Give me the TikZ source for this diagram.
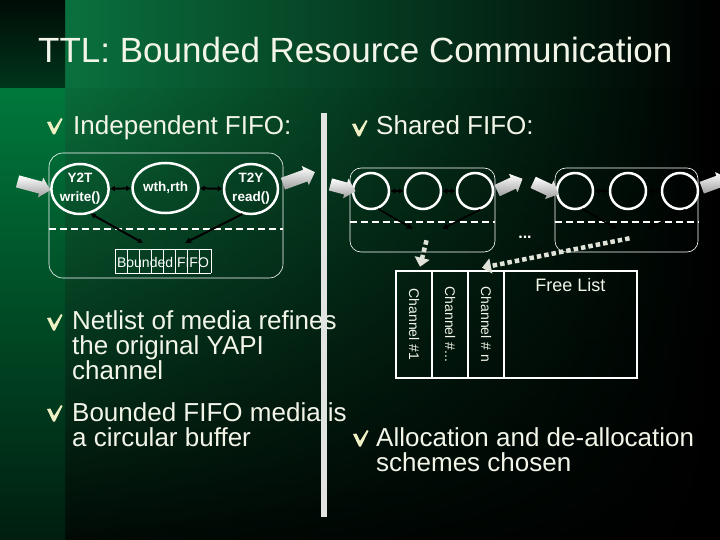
\documentclass[tikz,border=0pt]{standalone}
\usepackage{fontspec}
\setmainfont{Liberation Sans}
\usepackage{tikz}
\usetikzlibrary{arrows.meta,positioning,shapes.geometric,shapes.arrows,fadings}
\definecolor{titlegreen}{HTML}{0A703E}
\definecolor{slidegreen}{HTML}{0A6C3A}
\definecolor{stripgreen}{HTML}{00783C}
\definecolor{cream}{HTML}{F2F5E8}
\definecolor{barGrey}{HTML}{E2E4E2}
\definecolor{tick}{HTML}{EEF0C4}
\newcommand{\chk}[2]{\fill[tick,shift={(#1,#2)}] (0,4) -- (3.5,3.5) -- (7,11)
   -- (14,0) -- (15.5,1) -- (8,16.5) -- (6,16.5) -- cycle;}

\begin{document}
\begin{tikzpicture}[x=1pt,y=-1pt,
  txt/.style={text=cream,inner sep=0pt,anchor=base west,align=left},
  head/.style={txt,font=\fontsize{35}{40}\selectfont},
  bul/.style={txt,font=\fontsize{26}{25}\selectfont},
  grp/.style={draw=white,line width=0.6pt,rounded corners=14pt,inner sep=0pt},
  fsm/.style={ellipse,draw=white,line width=2.5pt,minimum width=54pt,
              minimum height=50pt,inner sep=0pt,align=center,text=white,
              font=\bfseries\fontsize{13.5}{19}\selectfont},
  slot/.style={circle,draw=white,line width=2.5pt,minimum size=36pt,inner sep=0pt},
  link/.style={{Latex[length=5pt,width=6pt]}-{Latex[length=5pt,width=6pt]},
               line width=2pt,black},
  tofifo/.style={-{Latex[length=6pt,width=7pt]},line width=2pt,black},
  sep/.style={draw=white,line width=1.5pt,dash pattern=on 7pt off 4pt},
  blk/.style={single arrow,top color=white,bottom color=gray!75,draw=none,
              minimum height=34pt,inner xsep=0pt,inner ysep=6pt,
              single arrow head extend=4pt},
  cell/.style={draw=white,line width=0.5pt},
  chan/.style={draw=white,line width=2.5pt,minimum width=107pt,minimum height=36pt,
               inner sep=0pt,text=cream,font=\fontsize{14}{16}\selectfont},
  dots/.style={draw=cream!85!gray,line width=4.5pt,dash pattern=on 4.5pt off 3pt,
               -{Triangle[length=9pt,width=15pt]}}]
\useasboundingbox (0,0) rectangle (720,540);
% background
\fill[black] (0,0) rectangle (720,540);
\shade[left color=slidegreen,middle color=slidegreen!55!black,right color=black]
   (65,88) rectangle (720,540);
\fill[black,path fading=north,fill opacity=0.9] (65,88) rectangle (720,540);
\shade[top color=stripgreen,bottom color=stripgreen!25!black] (0,88) rectangle (65,540);
\shade[left color=titlegreen,middle color=titlegreen!60!black,right color=black]
   (65,0) rectangle (720,88);
\shade[top color=black!90!stripgreen,bottom color=stripgreen!45!black] (0,0) rectangle (65,88);

\node[head] (title) at (38,63) {TTL: Bounded Resource Communication};

% independent FIFO
\chk{47}{118}
\node[bul] (indep) at (73,135) {Independent FIFO:};
\node[grp,minimum width=234pt,minimum height=125pt] (ibox) at (166,215.5) {};
\draw[sep] (ibox.west |- 0,229) -- (ibox.east |- 0,229);
\node[fsm] (y2t) at (80,189) {Y2T\\write()};
\node[fsm,minimum width=66pt] (wr) at (165.5,188) {wth,rth};
\node[fsm] (t2y) at (251,189) {T2Y\\read()};
\draw[link] (y2t) -- (wr);
\draw[link] (wr) -- (t2y);
\foreach \i in {0,...,8}
  \draw[cell] (115+12*\i,249) -- ++(0,24);
\draw[cell] (115,249) -- (211,249) (115,273) -- (211,273);
\node[txt,anchor=base,text=white,font=\fontsize{14}{16}\selectfont] (buf) at (163,267) {Bounded FIFO};
\coordinate (wIn) at (143,243);
\coordinate (rOut) at (185,243);
\draw[link] (y2t.-67) -- (wIn);
\draw[tofifo] (t2y.-109) -- (rOut);
\node[blk,rotate=-15] (inA) at (31,185) {};
\node[blk,rotate=20] (outA) at (296,179) {};

% shared FIFO
\chk{352}{120}
\node[bul] (shared) at (376,135) {Shared FIFO:};
\node[grp,rounded corners=11pt,minimum width=145pt,minimum height=84pt] (sh1) at (422.5,210) {};
\node[grp,rounded corners=11pt,minimum width=143pt,minimum height=84pt] (sh2) at (626.5,210) {};
\draw[sep] (sh1.west |- 0,222) -- (sh1.east |- 0,222);
\draw[sep] (sh2.west |- 0,222) -- (sh2.east |- 0,222);
\node[slot] (a1) at (371,191) {};
\node[slot] (a2) at (423,191) {};
\node[slot] (a3) at (475,191) {};
\node[slot] (b1) at (575,191) {};
\node[slot] (b2) at (628,191) {};
\node[slot] (b3) at (680,191) {};
\draw[link,line width=1.5pt] (a1) -- (a2);
\draw[link,line width=1.5pt] (a2) -- (a3);
\draw[link,line width=1.5pt] (b1) -- (b2);
\draw[link,line width=1.5pt] (b2) -- (b3);
\coordinate (aw) at (413,229);
\coordinate (ar) at (442,229);
\coordinate (bw) at (617,229);
\coordinate (br) at (648,229);
\draw[tofifo,line width=1.6pt] (a1.-68) -- (aw);
\draw[tofifo,line width=1.6pt] (a3.-74) -- (ar);
\draw[tofifo,line width=1.6pt] (b1.-68) -- (bw);
\draw[tofifo,line width=1.6pt] (b3.-74) -- (br);
\node[blk,rotate=-15,minimum height=26pt] (inB) at (340,187) {};
\node[blk,rotate=25,minimum height=28pt] (outB) at (507,186) {};
\node[blk,rotate=-25,minimum height=28pt] (inC) at (543,187) {};
\node[blk,rotate=20,minimum height=28pt] (outC) at (712,184) {};
\node[txt,anchor=base,text=white,font=\bfseries\fontsize{16}{16}\selectfont] (more) at (525,239) {...};

% channel memory
\node[chan,rotate=-90] (ch1) at (414,324.5) {Channel \#1};
\node[chan,rotate=-90] (ch2) at (450,324.5) {Channel \#...};
\node[chan,rotate=-90] (ch3) at (486,324.5) {Channel \# n};
\node[draw=white,line width=2.5pt,minimum width=133pt,minimum height=107pt,inner sep=0pt]
   (free) at (570.5,324.5) {};
\node[txt,anchor=base,font=\fontsize{18}{20}\selectfont] (fl) at ([yshift=-22pt]free.north) {Free List};
\draw[dots] ([xshift=4pt,yshift=12pt]sh1.south) -- ([xshift=6pt,yshift=3pt]ch1.west);
\draw[dots] ([xshift=3pt,yshift=14pt]sh2.south) -- ([xshift=-4pt,yshift=2pt]ch3.west);

% bullets (base = last line)
\chk{47}{314}
\node[bul] (net) at (72,379) {Netlist of media refines\\the original YAPI\\channel};
\chk{47}{405}
\node[bul] (circ) at (72,446) {Bounded FIFO media is\\a circular buffer};
\chk{353}{430}
\node[bul] (alloc) at (376,471) {Allocation and de-allocation\\schemes chosen};

\fill[barGrey] (321,113) rectangle (327,517);
\end{tikzpicture}
\end{document}
